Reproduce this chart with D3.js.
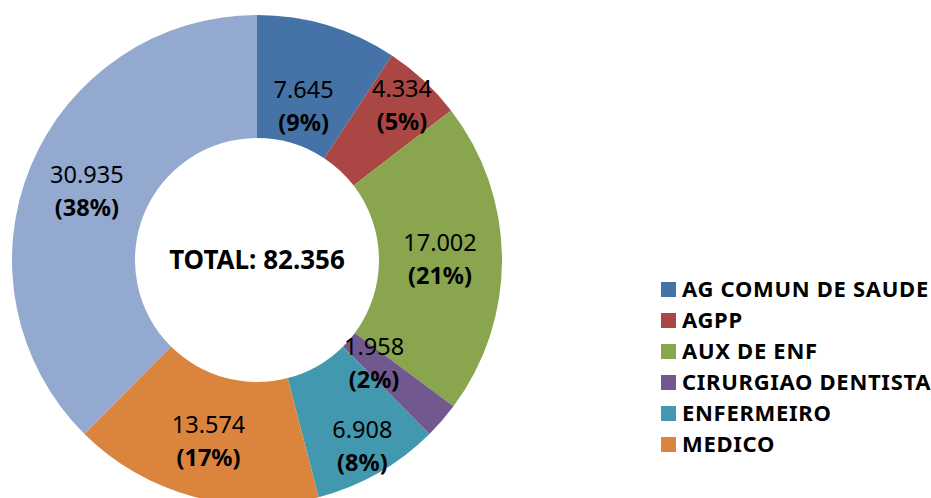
<!DOCTYPE html>
<html>
<head>
<meta charset="utf-8">
<script src="https://cdn.jsdelivr.net/npm/d3@7"></script>
<style>
  body { margin: 0; background: #fff; }
  svg { display: block; }
</style>
</head>
<body>
<div id="chart"></div>
<script>
// Data
const categories = ['AG COMUN DE SAUDE', 'AGPP', 'AUX DE ENF', 'CIRURGIAO DENTISTA', 'ENFERMEIRO', 'MEDICO', 'OUTROS'];
const values = [7645, 4334, 17002, 1958, 6908, 13574, 30935];
const percentLabels = [9, 5, 21, 2, 8, 17, 38];
const legendCategories = categories.slice(0, 6);
const totalLabel = 'TOTAL: ';

const colors = ['#4572A7', '#AA4643', '#89A54E', '#71588F', '#4198AF', '#DB843D', '#93A9CF'];

// layout
const width = 931, height = 498;
const cx = 257, cy = 260;
const outerR = 245, innerR = 122;
// label distance from centre for each slice (Excel nudged some of them)
const labelR = [162, 213, 183, 155, 213, 186, 184];

const ptBR = d3.formatLocale({ decimal: ',', thousands: '.', grouping: [3], currency: ['R$', ''] });
const fmt = ptBR.format(',d');

const svg = d3.select('#chart')
  .append('svg')
  .attr('width', width)
  .attr('height', height)
  .style('font-family', '"Noto Sans", sans-serif');

const color = d3.scaleOrdinal().domain(categories).range(colors);

const pie = d3.pie().sort(null).value(d => d.value);
const slices = pie(categories.map((c, i) => ({ name: c, value: values[i], pct: percentLabels[i], idx: i })));

const arc = d3.arc().innerRadius(innerR).outerRadius(outerR);

const g = svg.append('g').attr('transform', `translate(${cx},${cy})`);

g.selectAll('path.slice')
  .data(slices)
  .enter().append('path')
  .attr('class', 'slice')
  .attr('d', arc)
  .style('fill', d => color(d.data.name));

// data labels
const labels = g.selectAll('text.lbl')
  .data(slices)
  .enter().append('text')
  .attr('class', 'lbl')
  .attr('text-anchor', 'middle')
  .attr('transform', d => {
    const a = (d.startAngle + d.endAngle) / 2;
    const r = labelR[d.data.idx];
    return `translate(${r * Math.sin(a)},${-r * Math.cos(a)})`;
  })
  .style('font-size', '23.5px')
  .style('fill', '#000');

labels.append('tspan')
  .attr('x', 0)
  .attr('y', -7)
  .text(d => fmt(d.data.value));

labels.append('tspan')
  .attr('x', 0)
  .attr('y', 26)
  .style('font-weight', 'bold')
  .text(d => `(${d.data.pct}%)`);

// centre total
g.append('text')
  .attr('text-anchor', 'middle')
  .attr('y', 9)
  .style('font-size', '26px')
  .style('font-weight', 'bold')
  .style('fill', '#000')
  .text(totalLabel + fmt(d3.sum(values)));

// legend
const legend = svg.append('g')
  .attr('class', 'legend')
  .attr('transform', 'translate(661, 282)');

const items = legend.selectAll('.legend-item')
  .data(legendCategories)
  .enter().append('g')
  .attr('class', 'legend-item')
  .attr('transform', (d, i) => `translate(0, ${i * 31})`);

items.append('rect')
  .attr('width', 15)
  .attr('height', 15)
  .style('fill', d => color(d));

items.append('text')
  .attr('x', 21)
  .attr('y', 7.5)
  .attr('dy', '0.36em')
  .style('font-size', '22px')
  .style('letter-spacing', '0.7px')
  .style('font-weight', 'bold')
  .style('fill', '#000')
  .text(d => d);
</script>
</body>
</html>
